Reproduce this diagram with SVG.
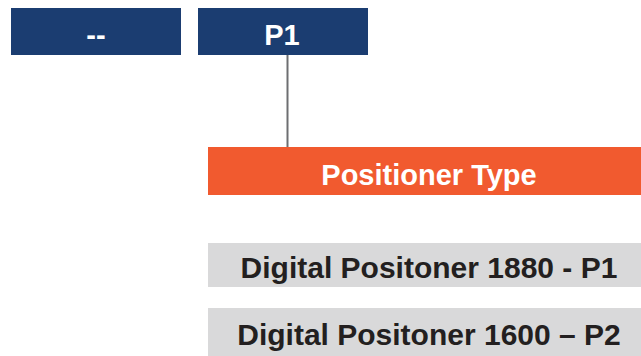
<svg xmlns="http://www.w3.org/2000/svg" width="641" height="356" viewBox="0 0 641 356">
<style>
.t{font-family:"Liberation Sans",Arial,sans-serif;font-weight:bold;text-anchor:middle}
.w{fill:#ffffff}
.k{fill:#231f20}
.navy{fill:#1b3d71}
.gray{fill:#d9d9da}
</style>
<rect width="641" height="356" fill="#ffffff"/>
<g id="connectors">
<line x1="287.5" y1="55" x2="287.5" y2="148" stroke="#6d6e71" stroke-width="2"/>
</g>
<g id="node-dash">
<rect class="navy" x="11" y="8" width="170" height="47"/>
<text class="t w" x="96" y="45" font-size="29">--</text>
</g>
<g id="node-p1">
<rect class="navy" x="198" y="8" width="170" height="47"/>
<text class="t w" x="282" y="45" font-size="29">P1</text>
</g>
<g id="node-type">
<rect x="208" y="147" width="433" height="48" fill="#f15a2f"/>
<text class="t w" x="429" y="185" font-size="29">Positioner Type</text>
</g>
<g id="node-1880">
<rect class="gray" x="208" y="243" width="433" height="44"/>
<text class="t k" x="429" y="278" font-size="30">Digital Positoner 1880 - P1</text>
</g>
<g id="node-1600">
<rect class="gray" x="208" y="308" width="433" height="48"/>
<text class="t k" x="429" y="345" font-size="30">Digital Positoner 1600 – P2</text>
</g>
</svg>
